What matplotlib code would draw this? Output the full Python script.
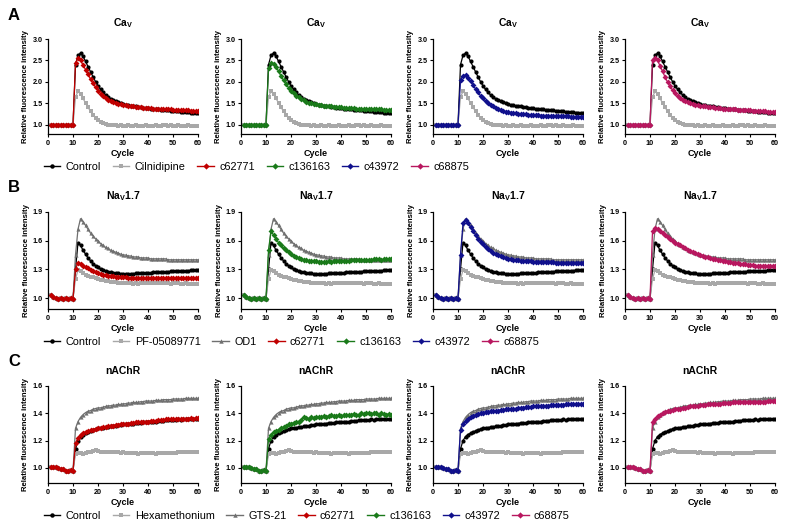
import numpy as np
import matplotlib
matplotlib.use("Agg")
import matplotlib.pyplot as plt
from matplotlib.lines import Line2D

plt.rcParams['font.family'] = ['Liberation Sans', 'DejaVu Sans']
plt.rcParams['mathtext.fontset'] = 'custom'
plt.rcParams['mathtext.bf'] = 'Liberation Sans:bold'
plt.rcParams['mathtext.rm'] = 'Liberation Sans:bold'

cycles = list(range(1, 61))

# baselines (cycles 1-10)
base_A = [1.0, 0.99, 1.0, 1.0, 0.99, 1.0, 1.0, 0.99, 1.0, 1.0]
base_B = [1.03, 1.01, 1.0, 0.99, 1.0, 0.99, 1.0, 0.99, 1.0, 0.99]
base_C = [1.01, 1.01, 1.005, 1.0, 0.995, 0.99, 0.975, 0.98, 0.985, 0.98]

# ---- A: CaV ----
ctrl_A = base_A + [2.40, 2.62, 2.67, 2.60, 2.48, 2.36, 2.24, 2.12, 2.01, 1.91,
                   1.83, 1.76, 1.70, 1.65, 1.61, 1.58, 1.55, 1.53, 1.51, 1.49,
                   1.47, 1.46, 1.45, 1.44, 1.43, 1.42, 1.41, 1.40, 1.395, 1.39,
                   1.38, 1.37, 1.37, 1.36, 1.35, 1.35, 1.34, 1.34, 1.33, 1.33,
                   1.32, 1.32, 1.31, 1.31, 1.30, 1.30, 1.29, 1.29, 1.28, 1.28]
cilnidipine = base_A + [1.65, 1.78, 1.72, 1.62, 1.51, 1.41, 1.32, 1.24, 1.17, 1.12,
                        1.08, 1.05, 1.03, 1.01, 1.00, 0.99, 0.99, 0.98, 0.99, 0.98,
                        0.98, 0.99, 0.98, 0.98, 0.99, 0.98, 0.98, 0.98, 0.99, 0.98,
                        0.98, 0.98, 0.99, 0.98, 0.98, 0.99, 0.99, 0.98, 0.99, 0.98,
                        0.98, 0.99, 0.98, 0.98, 0.98, 0.99, 0.98, 0.98, 0.98, 0.98]
c62771_A = base_A + [2.45, 2.55, 2.50, 2.40, 2.29, 2.18, 2.07, 1.97, 1.88, 1.80,
                     1.73, 1.67, 1.63, 1.59, 1.56, 1.53, 1.51, 1.49, 1.48, 1.47,
                     1.46, 1.45, 1.44, 1.43, 1.42, 1.42, 1.41, 1.40, 1.40, 1.39,
                     1.39, 1.38, 1.38, 1.37, 1.37, 1.37, 1.36, 1.36, 1.36, 1.35,
                     1.35, 1.35, 1.34, 1.34, 1.34, 1.34, 1.33, 1.33, 1.33, 1.33]
c136163_A = base_A + [2.32, 2.45, 2.43, 2.35, 2.25, 2.14, 2.04, 1.95, 1.87, 1.80,
                      1.74, 1.68, 1.64, 1.60, 1.57, 1.54, 1.52, 1.50, 1.49, 1.48,
                      1.47, 1.46, 1.45, 1.44, 1.43, 1.43, 1.42, 1.42, 1.41, 1.41,
                      1.40, 1.40, 1.39, 1.39, 1.39, 1.38, 1.38, 1.38, 1.37, 1.37,
                      1.37, 1.37, 1.36, 1.36, 1.36, 1.36, 1.35, 1.35, 1.35, 1.35]
c43972_A = base_A + [2.05, 2.15, 2.16, 2.10, 2.02, 1.93, 1.84, 1.76, 1.68, 1.62,
                     1.56, 1.51, 1.47, 1.43, 1.40, 1.37, 1.35, 1.33, 1.31, 1.30,
                     1.29, 1.28, 1.27, 1.26, 1.26, 1.25, 1.25, 1.24, 1.24, 1.23,
                     1.23, 1.23, 1.22, 1.22, 1.22, 1.21, 1.21, 1.21, 1.21, 1.20,
                     1.20, 1.20, 1.20, 1.20, 1.19, 1.19, 1.19, 1.19, 1.19, 1.19]
c68875_A = base_A + [2.52, 2.56, 2.50, 2.38, 2.25, 2.12, 2.00, 1.90, 1.81, 1.74,
                     1.68, 1.63, 1.59, 1.56, 1.53, 1.51, 1.49, 1.47, 1.46, 1.45,
                     1.44, 1.43, 1.42, 1.41, 1.41, 1.40, 1.39, 1.39, 1.38, 1.38,
                     1.37, 1.37, 1.36, 1.36, 1.35, 1.35, 1.35, 1.34, 1.34, 1.34,
                     1.33, 1.33, 1.33, 1.32, 1.32, 1.32, 1.31, 1.31, 1.31, 1.30]

# ---- B: NaV1.7 ----
ctrl_B = base_B + [1.30, 1.58, 1.55, 1.50, 1.46, 1.42, 1.39, 1.36, 1.34, 1.32,
                   1.30, 1.29, 1.28, 1.275, 1.27, 1.265, 1.26, 1.26, 1.255, 1.255,
                   1.255, 1.25, 1.255, 1.25, 1.26, 1.26, 1.26, 1.26, 1.265, 1.265,
                   1.265, 1.27, 1.27, 1.27, 1.27, 1.275, 1.275, 1.275, 1.28, 1.28,
                   1.28, 1.28, 1.285, 1.285, 1.285, 1.285, 1.29, 1.29, 1.29, 1.29]
pf05089771 = base_B + [1.20, 1.29, 1.28, 1.26, 1.245, 1.235, 1.225, 1.215, 1.205, 1.20,
                       1.19, 1.185, 1.18, 1.175, 1.17, 1.17, 1.165, 1.16, 1.16, 1.16,
                       1.155, 1.155, 1.155, 1.15, 1.155, 1.15, 1.155, 1.155, 1.155, 1.155,
                       1.155, 1.155, 1.155, 1.155, 1.155, 1.155, 1.155, 1.155, 1.15, 1.155,
                       1.155, 1.155, 1.15, 1.15, 1.155, 1.15, 1.15, 1.15, 1.15, 1.15]
od1 = base_B + [1.45, 1.72, 1.83, 1.80, 1.76, 1.72, 1.68, 1.65, 1.62, 1.60,
                1.57, 1.55, 1.53, 1.52, 1.50, 1.49, 1.48, 1.47, 1.46, 1.45,
                1.45, 1.44, 1.44, 1.43, 1.43, 1.43, 1.42, 1.42, 1.42, 1.42,
                1.41, 1.41, 1.41, 1.41, 1.41, 1.41, 1.41, 1.40, 1.40, 1.40,
                1.40, 1.40, 1.40, 1.40, 1.40, 1.40, 1.40, 1.40, 1.40, 1.40]
c62771_B = base_B + [1.30, 1.37, 1.36, 1.34, 1.32, 1.31, 1.29, 1.28, 1.27, 1.26,
                     1.25, 1.245, 1.24, 1.235, 1.23, 1.23, 1.225, 1.22, 1.22, 1.215,
                     1.215, 1.21, 1.21, 1.21, 1.21, 1.205, 1.21, 1.205, 1.21, 1.205,
                     1.205, 1.21, 1.205, 1.205, 1.21, 1.205, 1.21, 1.21, 1.205, 1.21,
                     1.21, 1.205, 1.21, 1.21, 1.21, 1.205, 1.21, 1.21, 1.21, 1.21]
c136163_B = base_B + [1.50, 1.70, 1.66, 1.62, 1.58, 1.55, 1.52, 1.50, 1.48, 1.46,
                      1.44, 1.43, 1.42, 1.41, 1.40, 1.395, 1.39, 1.39, 1.385, 1.385,
                      1.38, 1.38, 1.38, 1.38, 1.385, 1.38, 1.385, 1.385, 1.39, 1.39,
                      1.39, 1.39, 1.39, 1.395, 1.395, 1.395, 1.40, 1.40, 1.40, 1.40,
                      1.40, 1.40, 1.405, 1.405, 1.405, 1.40, 1.405, 1.41, 1.41, 1.41]
c43972_B = base_B + [1.45, 1.78, 1.82, 1.78, 1.74, 1.70, 1.66, 1.62, 1.59, 1.56,
                     1.53, 1.51, 1.49, 1.47, 1.46, 1.45, 1.44, 1.43, 1.42, 1.41,
                     1.41, 1.40, 1.40, 1.395, 1.39, 1.39, 1.39, 1.385, 1.385, 1.38,
                     1.38, 1.38, 1.38, 1.38, 1.375, 1.375, 1.375, 1.375, 1.37, 1.37,
                     1.37, 1.37, 1.37, 1.37, 1.37, 1.37, 1.37, 1.37, 1.37, 1.37]
c68875_B = base_B + [1.70, 1.73, 1.72, 1.70, 1.68, 1.66, 1.64, 1.62, 1.60, 1.58,
                     1.56, 1.55, 1.53, 1.52, 1.50, 1.49, 1.48, 1.47, 1.46, 1.45,
                     1.44, 1.43, 1.43, 1.42, 1.41, 1.41, 1.40, 1.40, 1.39, 1.39,
                     1.38, 1.38, 1.37, 1.37, 1.37, 1.36, 1.36, 1.36, 1.35, 1.35,
                     1.35, 1.34, 1.34, 1.34, 1.34, 1.33, 1.33, 1.33, 1.33, 1.33]

# ---- C: nAChR ----
ctrl_C = base_C + [1.14, 1.20, 1.23, 1.245, 1.255, 1.265, 1.27, 1.28, 1.285, 1.29,
                   1.29, 1.295, 1.30, 1.30, 1.305, 1.31, 1.31, 1.315, 1.315, 1.32,
                   1.32, 1.32, 1.325, 1.325, 1.33, 1.33, 1.33, 1.335, 1.335, 1.34,
                   1.34, 1.34, 1.34, 1.345, 1.345, 1.345, 1.35, 1.35, 1.35, 1.35,
                   1.35, 1.355, 1.35, 1.355, 1.355, 1.355, 1.36, 1.355, 1.36, 1.36]
hexamethonium = base_C + [1.10, 1.11, 1.11, 1.10, 1.11, 1.115, 1.12, 1.125, 1.13, 1.125,
                          1.12, 1.12, 1.12, 1.12, 1.115, 1.115, 1.115, 1.115, 1.11, 1.115,
                          1.11, 1.11, 1.11, 1.11, 1.11, 1.105, 1.11, 1.11, 1.11, 1.11,
                          1.11, 1.11, 1.105, 1.11, 1.11, 1.11, 1.11, 1.11, 1.11, 1.11,
                          1.11, 1.115, 1.115, 1.115, 1.115, 1.12, 1.115, 1.12, 1.12, 1.12]
gts21 = base_C + [1.29, 1.34, 1.37, 1.39, 1.405, 1.415, 1.42, 1.43, 1.435, 1.44,
                  1.44, 1.445, 1.45, 1.455, 1.455, 1.46, 1.46, 1.465, 1.465, 1.47,
                  1.47, 1.475, 1.475, 1.48, 1.48, 1.48, 1.485, 1.485, 1.49, 1.49,
                  1.49, 1.49, 1.495, 1.495, 1.495, 1.50, 1.50, 1.50, 1.50, 1.505,
                  1.505, 1.505, 1.505, 1.505, 1.51, 1.51, 1.51, 1.51, 1.51, 1.51]
c62771_C = base_C + [1.18, 1.22, 1.245, 1.255, 1.265, 1.27, 1.275, 1.28, 1.285, 1.29,
                     1.295, 1.30, 1.30, 1.305, 1.31, 1.31, 1.315, 1.315, 1.32, 1.32,
                     1.325, 1.325, 1.33, 1.33, 1.335, 1.335, 1.335, 1.34, 1.34, 1.34,
                     1.345, 1.345, 1.345, 1.35, 1.35, 1.35, 1.355, 1.355, 1.355, 1.355,
                     1.36, 1.36, 1.36, 1.36, 1.36, 1.36, 1.365, 1.36, 1.365, 1.365]
c136163_C = base_C + [1.21, 1.245, 1.26, 1.27, 1.28, 1.29, 1.30, 1.31, 1.32, 1.325,
                      1.33, 1.335, 1.34, 1.35, 1.37, 1.365, 1.36, 1.37, 1.365, 1.37,
                      1.375, 1.37, 1.38, 1.375, 1.38, 1.385, 1.38, 1.38, 1.385, 1.38,
                      1.385, 1.39, 1.385, 1.39, 1.395, 1.39, 1.39, 1.40, 1.395, 1.40,
                      1.40, 1.395, 1.40, 1.40, 1.39, 1.40, 1.395, 1.39, 1.395, 1.39]
c43972_C = base_C + [1.28, 1.32, 1.345, 1.36, 1.375, 1.38, 1.39, 1.395, 1.40, 1.405,
                     1.41, 1.41, 1.415, 1.42, 1.42, 1.42, 1.425, 1.425, 1.43, 1.43,
                     1.43, 1.435, 1.435, 1.44, 1.44, 1.44, 1.445, 1.445, 1.445, 1.45,
                     1.45, 1.45, 1.45, 1.455, 1.455, 1.455, 1.46, 1.46, 1.46, 1.46,
                     1.46, 1.46, 1.465, 1.465, 1.465, 1.465, 1.465, 1.465, 1.465, 1.465]
c68875_C = base_C + [1.34, 1.36, 1.38, 1.39, 1.40, 1.41, 1.415, 1.42, 1.425, 1.43,
                     1.43, 1.435, 1.44, 1.44, 1.445, 1.45, 1.45, 1.455, 1.455, 1.46,
                     1.46, 1.46, 1.465, 1.465, 1.47, 1.47, 1.47, 1.47, 1.475, 1.475,
                     1.475, 1.475, 1.48, 1.48, 1.48, 1.48, 1.48, 1.48, 1.485, 1.485,
                     1.485, 1.485, 1.485, 1.485, 1.485, 1.485, 1.49, 1.49, 1.49, 1.49]

compound_names = ['c62771', 'c136163', 'c43972', 'c68875']
compound_colors = ['#C00000', '#1A7A1A', '#10108C', '#B8175F']

styles = {
    'Control': dict(color='black', marker='o'),
    'Cilnidipine': dict(color='#A8A8A8', marker='s'),
    'PF-05089771': dict(color='#A8A8A8', marker='s'),
    'Hexamethonium': dict(color='#A8A8A8', marker='s'),
    'OD1': dict(color='#707070', marker='^'),
    'GTS-21': dict(color='#707070', marker='^'),
}
for n, c in zip(compound_names, compound_colors):
    styles[n] = dict(color=c, marker='D')

rows = [
    dict(letter='A', title=r'Ca$_\mathbf{V}$', ylim=(0.79, 3.0),
         yticks=[1.0, 1.5, 2.0, 2.5, 3.0],
         refs=[('Control', ctrl_A), ('Cilnidipine', cilnidipine)],
         comps=[c62771_A, c136163_A, c43972_A, c68875_A]),
    dict(letter='B', title=r'Na$_\mathbf{V}$1.7', ylim=(0.885, 1.9),
         yticks=[1.0, 1.3, 1.6, 1.9],
         refs=[('Control', ctrl_B), ('PF-05089771', pf05089771), ('OD1', od1)],
         comps=[c62771_B, c136163_B, c43972_B, c68875_B]),
    dict(letter='C', title='nAChR', ylim=(0.89, 1.6),
         yticks=[1.0, 1.2, 1.4, 1.6],
         refs=[('Control', ctrl_C), ('Hexamethonium', hexamethonium), ('GTS-21', gts21)],
         comps=[c62771_C, c136163_C, c43972_C, c68875_C]),
]

W, H = 786, 524
fig = plt.figure(figsize=(W / 100, H / 100), dpi=100)

col_left = [48, 241, 433, 625]
ax_w = 150
row_top = [39, 212, 386]
row_bot = [134, 309, 483]
legend_y = [167, 342, 516]
letter_y = [15, 188, 362]


def draw(ax, name, data, ms=3.0):
    st = styles[name]
    ax.plot(cycles, data, color=st['color'], marker=st['marker'], ms=ms,
            lw=0.9, mew=0, label=name)


for r, row in enumerate(rows):
    for c in range(4):
        ax = fig.add_axes([col_left[c] / W, 1 - row_bot[r] / H, ax_w / W,
                           (row_bot[r] - row_top[r]) / H])
        for name, data in row['refs']:
            draw(ax, name, data, ms=3.0 if styles[name]['marker'] != 's' else 2.5)
        draw(ax, compound_names[c], row['comps'][c])
        ax.set_xlim(0, 60)
        ax.set_ylim(*row['ylim'])
        ax.set_xticks(range(0, 61, 10))
        ax.set_yticks(row['yticks'])
        ax.set_yticklabels([f'{v:.1f}' for v in row['yticks']])
        for s in ['top', 'right']:
            ax.spines[s].set_visible(False)
        for s in ['left', 'bottom']:
            ax.spines[s].set_linewidth(0.9)
        ax.tick_params(labelsize=5.2, width=0.8, length=2.5, pad=1.5)
        for lab in ax.get_xticklabels() + ax.get_yticklabels():
            lab.set_fontweight('bold')
        ax.set_title(row['title'], fontsize=7.5, fontweight='bold', pad=9)
        ax.set_xlabel('Cycle', fontsize=6.5, fontweight='bold', labelpad=2)
        ax.set_ylabel('Relative fluorescence intensity', fontsize=5.6,
                      fontweight='bold', labelpad=2)

    # row legend
    names = [n for n, _ in row['refs']] + compound_names
    handles = [Line2D([], [], color=styles[n]['color'], marker=styles[n]['marker'],
                      ms=3.2, lw=1.0, mew=0) for n in names]
    fig.legend(handles, names, loc='center left',
               bbox_to_anchor=(44 / W, 1 - legend_y[r] / H), ncol=len(names),
               frameon=False, fontsize=7.8, handlelength=1.5, handletextpad=0.5,
               columnspacing=1.1, borderaxespad=0, borderpad=0)
    fig.text(8 / W, 1 - letter_y[r] / H, row['letter'], fontsize=12,
             fontweight='bold', va='center', ha='left')

fig.savefig('out.png', dpi=100)
